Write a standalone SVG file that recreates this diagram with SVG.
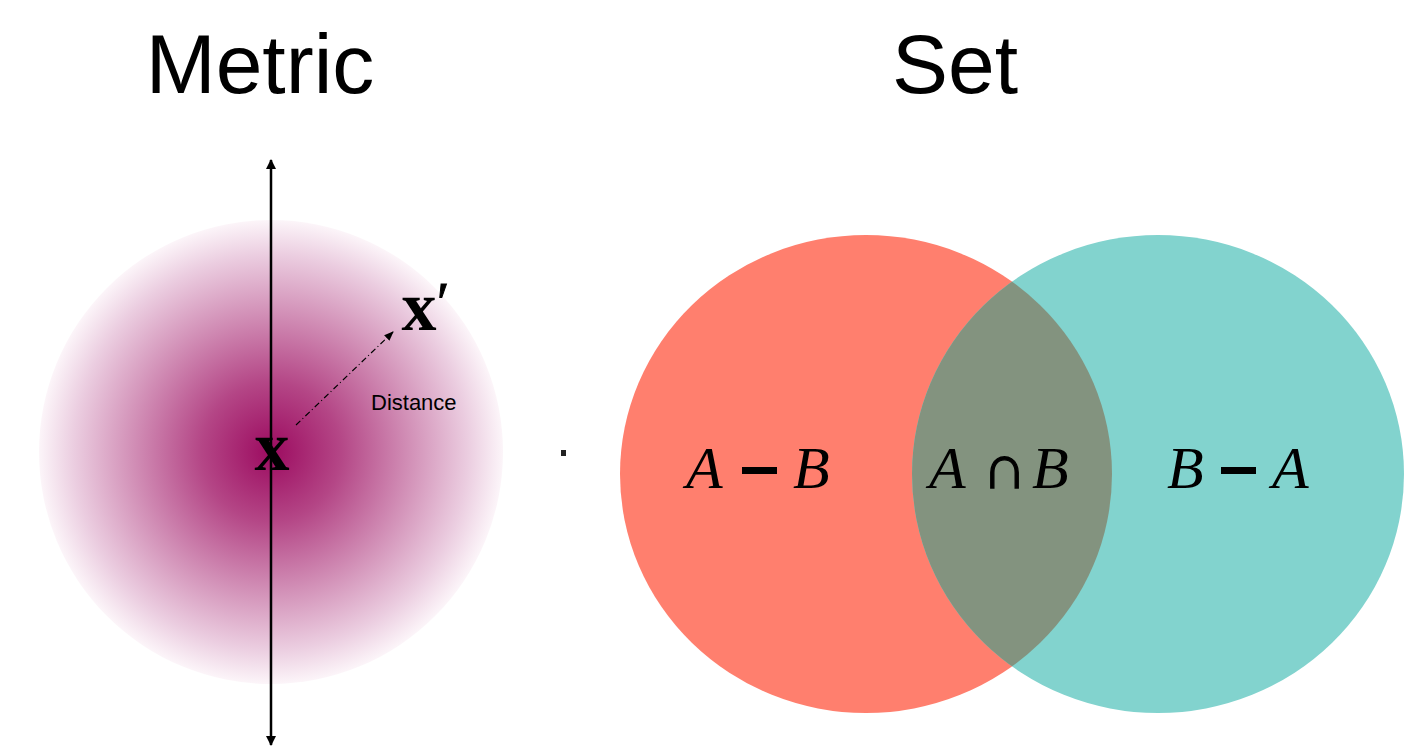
<svg xmlns="http://www.w3.org/2000/svg" width="1409" height="750" viewBox="0 0 1409 750">
<style>
.title{font-family:"Liberation Sans",Arial,sans-serif;font-size:84px;fill:#000;text-anchor:middle}
.math{font-family:"Liberation Serif","Times New Roman",serif;font-style:italic;font-size:60px;fill:#000}
.op{font-family:"Liberation Serif","DejaVu Serif",serif;font-style:normal;font-size:62px;fill:#000;stroke:#000;stroke-width:1.3}
.bx{font-family:"Liberation Serif","Times New Roman",serif;font-weight:bold;font-size:70px;fill:#000;text-anchor:middle}
.prime{font-family:"Liberation Serif","Times New Roman",serif;font-size:56px;fill:#000;stroke:#000;stroke-width:1}
.small{font-family:"Liberation Sans",Arial,sans-serif;font-size:22px;fill:#000}
</style>
<defs>
<radialGradient id="glow" cx="0.5" cy="0.5" r="0.5">
<stop offset="0" stop-color="#9c0b60"/>
<stop offset="0.3" stop-color="#b44686"/>
<stop offset="0.6" stop-color="#d290b7"/>
<stop offset="0.85" stop-color="#ebcde0"/>
<stop offset="1" stop-color="#fcf5f9"/>
</radialGradient>
<marker id="ah" viewBox="0 0 10 10" refX="9" refY="5" markerWidth="4" markerHeight="4" orient="auto-start-reverse">
<path d="M0,0 L10,5 L0,10 z" fill="#000"/>
</marker>
<marker id="ah2" viewBox="0 0 10 10" refX="9" refY="5" markerWidth="8" markerHeight="8" orient="auto">
<path d="M0,1 L10,5 L0,9 z" fill="#000"/>
</marker>
<clipPath id="redClip"><ellipse cx="866" cy="474" rx="246" ry="239"/></clipPath>
</defs>
<rect width="1409" height="750" fill="#fff"/>
<g id="title-metric"><text class="title" x="260" y="93">Metric</text></g>
<g id="title-set"><text class="title" x="955" y="93">Set</text></g>
<g id="metric">
<circle cx="271" cy="452" r="232" fill="url(#glow)"/>
</g>
<g id="connectors">
<line x1="271" y1="160" x2="271" y2="745" stroke="#000" stroke-width="2.5" marker-start="url(#ah)" marker-end="url(#ah)"/>
<line x1="296" y1="425" x2="393" y2="332" stroke="#000" stroke-width="1.2" stroke-dasharray="6,3,1,3" marker-end="url(#ah2)"/>
</g>
<g id="node-x"><text class="bx" x="272" y="470">x</text></g>
<g id="node-xprime"><text class="bx" x="419" y="330">x</text><text class="prime" x="437" y="322">′</text></g>
<g id="label-distance"><text class="small" x="371" y="410">Distance</text></g>
<g id="dot"><rect x="561" y="450" width="5" height="6" fill="#222"/></g>
<g id="set-A"><ellipse cx="866" cy="474" rx="246" ry="239" fill="#ff7f6e"/></g>
<g id="set-B"><ellipse cx="1158" cy="474" rx="246" ry="239" fill="#82d3ce"/></g>
<g id="set-AB"><ellipse cx="1158" cy="474" rx="246" ry="239" fill="#83937f" clip-path="url(#redClip)"/></g>
<g id="label-AminusB"><text class="math" x="686" y="488">A</text><rect x="742" y="467" width="35" height="7" fill="#000"/><text class="math" x="793" y="488">B</text></g>
<g id="label-AcapB"><text class="math" x="929" y="488">A</text><text class="op" x="982" y="488">∩</text><text class="math" x="1032" y="488">B</text></g>
<g id="label-BminusA"><text class="math" x="1167" y="488">B</text><rect x="1221" y="467" width="35" height="7" fill="#000"/><text class="math" x="1272" y="488">A</text></g>
</svg>
